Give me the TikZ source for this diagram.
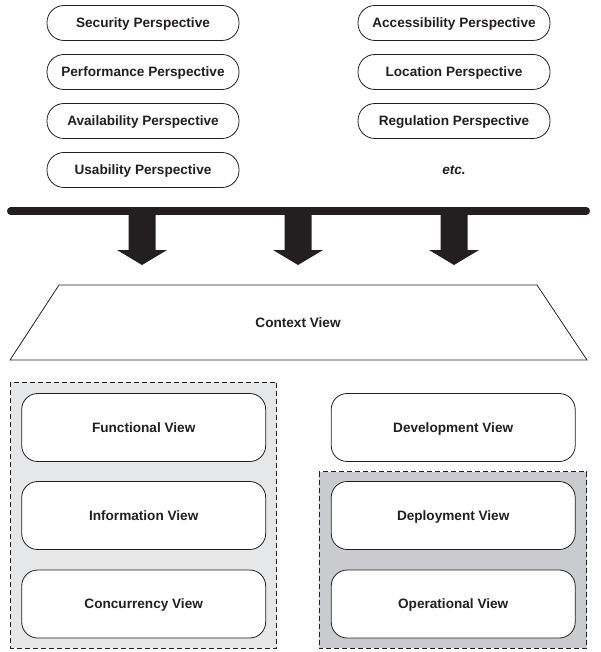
\documentclass[tikz,border=0pt]{standalone}
\usepackage{fontspec}
\setmainfont{Liberation Sans}
\usetikzlibrary{positioning}
\definecolor{ink}{HTML}{231F20}
\definecolor{lightgrp}{HTML}{E6E7E9}
\definecolor{darkgrp}{HTML}{C9CBCE}
\begin{document}
\begin{tikzpicture}[x=1pt,y=-1pt,
  every node/.style={font=\fontsize{13.6}{16}\selectfont\bfseries, text=ink,
    text height=9.7pt, text depth=0pt},
  pill/.style={draw=ink, line width=0.8pt, fill=white, rounded corners=17pt,
    minimum width=192pt, minimum height=35pt, inner sep=0pt},
  viewbox/.style={draw=ink, line width=0.8pt, fill=white, rounded corners=16pt,
    minimum width=244pt, minimum height=68pt, inner sep=0pt},
  group/.style={draw=ink, line width=0.8pt, dash pattern=on 5pt off 3pt},
  bigarrow/.style={fill=ink, draw=none}
]
\useasboundingbox (0,0) rectangle (600,652);

% perspectives
\node[pill] (sec)  at (143,23)    {Security Perspective};
\node[pill] (perf) at (143,72)    {Performance Perspective};
\node[pill] (avail) at (143,121)  {Availability Perspective};
\node[pill] (usab) at (143,170)   {Usability Perspective};
\node[pill] (acc)  at (454,23)    {Accessibility Perspective};
\node[pill] (loc)  at (454,72)    {Location Perspective};
\node[pill] (reg)  at (454,121)   {Regulation Perspective};
\node (etc) at (454,170) {\itshape etc.};

% bar
\coordinate (barL) at (10.5,211);
\coordinate (barR) at (586.5,211);
\draw[ink, line width=7pt, line cap=round] (barL) -- (barR);

% arrows
\foreach \cx/\nm in {142/a1, 298/a2, 454/a3}{
  \fill[bigarrow] (\cx-13.5,211) -- (\cx+13.5,211) -- (\cx+13.5,250) -- (\cx+25,250)
    -- (\cx,265) -- (\cx-25,250) -- (\cx-13.5,250) -- cycle;
}

% context view
\draw[ink, line width=0.8pt] (59,285) -- (537,285) -- (587,360) -- (10,360) -- cycle;
\node (ctx) at (298,323) {Context View};

% left group
\draw[group, fill=lightgrp] (10.7,382.3) rectangle (276.7,648.3);
\node[viewbox] (func) at (143.7,427.5) {Functional View};
\node[viewbox] (info) at (143.7,515.5) {Information View};
\node[viewbox] (conc) at (143.7,604)   {Concurrency View};

% right group
\node[viewbox] (dev) at (453.2,427.5) {Development View};
\draw[group, fill=darkgrp] (319,471.7) rectangle (586.7,648.3);
\node[viewbox] (depl) at (453.2,515.5) {Deployment View};
\node[viewbox] (oper) at (453.2,604)   {Operational View};
\end{tikzpicture}
\end{document}
